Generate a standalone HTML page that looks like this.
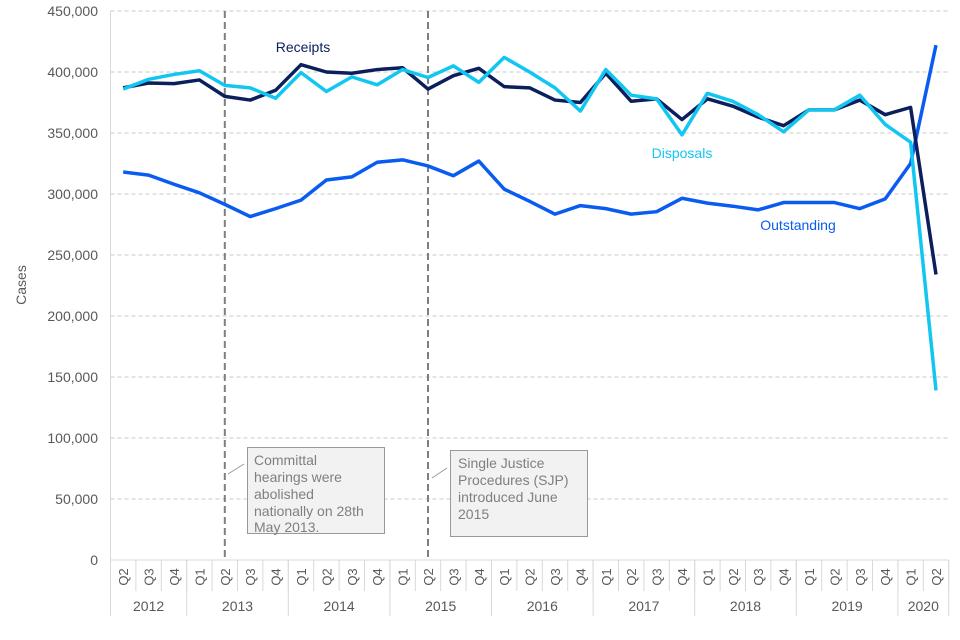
<!DOCTYPE html>
<html><head><meta charset="utf-8"><style>
html,body{margin:0;padding:0;background:#fff;}
svg{display:block;font-family:"Liberation Sans",Arial,sans-serif;}
</style></head><body>
<svg id="chart" width="960" height="640" viewBox="0 0 960 640">
<g id="grid"></g>
<g id="yaxis"></g>
<text x="26" y="285" transform="rotate(-90 26 285)" text-anchor="middle" font-size="14" fill="#595959">Cases</text>
<g id="xaxis"></g>
<g id="events"></g>
<g id="series"></g>
<text x="303" y="52" text-anchor="middle" font-size="14" fill="#0b1f5c">Receipts</text>
<text x="682" y="158" text-anchor="middle" font-size="14" fill="#12c6f2">Disposals</text>
<text x="798" y="230" text-anchor="middle" font-size="14" fill="#0a5cf0">Outstanding</text>
<g>
<line x1="228" y1="474" x2="244" y2="464" stroke="#999" stroke-width="1"/>
<rect x="247.5" y="447.5" width="137" height="86" fill="#f2f2f2" stroke="#999"/>
<text font-size="14" fill="#7f7f7f"><tspan x="254" y="465">Committal</tspan><tspan x="254" y="482">hearings were</tspan><tspan x="254" y="499">abolished</tspan><tspan x="254" y="516">nationally on 28th</tspan><tspan x="254" y="532">May 2013.</tspan></text>
</g>
<g>
<line x1="432" y1="478" x2="447" y2="468" stroke="#999" stroke-width="1"/>
<rect x="450.5" y="450.5" width="137" height="86" fill="#f2f2f2" stroke="#999"/>
<text font-size="14" fill="#7f7f7f"><tspan x="458" y="468">Single Justice</tspan><tspan x="458" y="485">Procedures (SJP)</tspan><tspan x="458" y="502">introduced June</tspan><tspan x="458" y="519">2015</tspan></text>
</g>
</svg>
<script>
const quarters = ["Q2","Q3","Q4","Q1","Q2","Q3","Q4","Q1","Q2","Q3","Q4","Q1","Q2","Q3","Q4","Q1","Q2","Q3","Q4","Q1","Q2","Q3","Q4","Q1","Q2","Q3","Q4","Q1","Q2","Q3","Q4","Q1","Q2"];
const years = ["2012","2013","2014","2015","2016","2017","2018","2019","2020"];
const yearSpans = [3,4,4,4,4,4,4,4,2];
const yTicks = [0,50000,100000,150000,200000,250000,300000,350000,400000,450000];
const receipts = [387000,391000,390500,393500,380000,377000,385000,406000,400000,399000,402000,403500,386000,397000,403000,388000,387000,377000,375000,399000,376000,378000,361000,378000,372000,363000,356000,369000,369000,377000,365000,371000,234000];
const disposals = [386000,394000,398000,401000,389000,387000,378500,399500,384000,396000,389500,402000,395500,405000,391500,412000,400000,387000,368000,402000,381000,378000,348500,382500,376000,365000,351000,369000,369000,381000,357000,342500,139000];
const outstanding = [318000,315500,308000,301000,291500,281500,288000,295000,311500,314000,326000,328000,323000,315000,327000,304000,294000,283500,290500,288000,283500,285500,296500,292500,290000,287000,293000,293000,293000,288000,296000,325000,422000];
const eventIdx = [4,12];

const NS="http://www.w3.org/2000/svg";
const L=110.5, CW=25.4, Y0=560, YTOP=11, YMAX=450000;
const R=L+CW*quarters.length;
const xs=i=>L+CW*(i+0.5);
const ys=v=>Y0-(v/YMAX)*(Y0-YTOP);
function mk(tag,attrs,parent,txt){const e=document.createElementNS(NS,tag);for(const k in attrs)e.setAttribute(k,attrs[k]);if(txt!==undefined)e.textContent=txt;parent.appendChild(e);return e;}
const grid=document.getElementById('grid'),yax=document.getElementById('yaxis'),xax=document.getElementById('xaxis'),ev=document.getElementById('events'),ser=document.getElementById('series');
yTicks.forEach(t=>{
  if(t>0){const g=mk('line',{x1:L,x2:R,y1:ys(t),y2:ys(t),stroke:'#c8c8c8','stroke-dasharray':'4,3'},grid);
  
  }
  const lb=mk('text',{x:98,y:ys(t)+5,'text-anchor':'end','font-size':14,fill:'#595959'},yax,t.toLocaleString('en-US'));
  
  
});
mk('line',{x1:L,x2:L,y1:YTOP,y2:Y0,stroke:'#d9d9d9'},yax);
mk('line',{x1:L,x2:R,y1:Y0,y2:Y0,stroke:'#d9d9d9'},xax);
quarters.forEach((q,i)=>{
  mk('line',{x1:L+CW*(i+1),x2:L+CW*(i+1),y1:Y0,y2:591,stroke:'#d9d9d9'},xax);
  const x=xs(i)+5;
  const t=mk('text',{x:x,y:577,'text-anchor':'middle','font-size':13,fill:'#595959',transform:`rotate(-90 ${x} 577)`},xax,q);
  
  
});
let c=0;
mk('line',{x1:L,x2:L,y1:Y0,y2:616,stroke:'#d9d9d9'},xax);
years.forEach((y,k)=>{
  const x0=L+CW*c; c+=yearSpans[k]; const x1=L+CW*c;
  mk('line',{x1:x1,x2:x1,y1:Y0,y2:616,stroke:'#d9d9d9'},xax);
  const t=mk('text',{x:(x0+x1)/2,y:611,'text-anchor':'middle','font-size':14,fill:'#595959'},xax,y);
  
  
});
eventIdx.forEach(i=>{
  const l=mk('line',{x1:xs(i),x2:xs(i),y1:YTOP,y2:Y0,stroke:'#7f7f7f','stroke-width':2,'stroke-dasharray':'7,4'},ev);
  
  
});
function line(data,color,name){
  const p=mk('polyline',{points:data.map((v,i)=>xs(i)+','+ys(v)).join(' '),fill:'none',stroke:color,'stroke-width':3.5,'stroke-linejoin':'round'},ser);
  
  
}
line(outstanding,'#0a5cf0','outstanding-line');
line(receipts,'#0b1f5c','receipts-line');
line(disposals,'#12c6f2','disposals-line');
</script>
</body></html>
